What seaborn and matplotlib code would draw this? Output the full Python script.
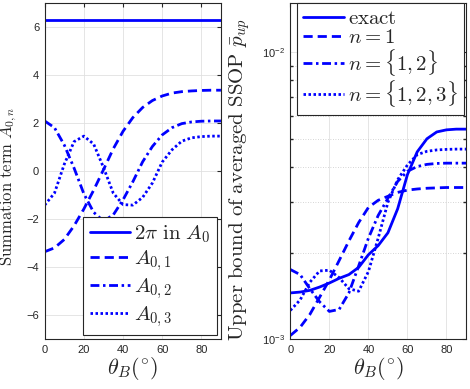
import seaborn as sns
import matplotlib.pyplot as plt
import matplotlib.ticker as mticker
from matplotlib.font_manager import FontProperties
import pandas as pd

theta = [0, 5, 10, 15, 20, 25, 30, 35, 40, 45, 50, 55, 60, 65, 70, 75, 80, 85, 90]

# left panel: summation terms
a0_const = 6.283
a01 = [-3.36, -3.20, -2.85, -2.28, -1.58, -0.80, 0.05, 0.92, 1.65, 2.22,
       2.64, 2.93, 3.12, 3.24, 3.30, 3.33, 3.35, 3.36, 3.36]
a02 = [2.08, 1.80, 1.08, 0.12, -0.95, -1.72, -2.08, -1.83, -1.20, -0.45,
       0.38, 1.02, 1.50, 1.80, 1.97, 2.04, 2.07, 2.08, 2.08]
a03 = [-1.42, -0.92, 0.28, 1.22, 1.45, 1.12, 0.15, -0.92, -1.40, -1.42,
       -1.10, -0.50, 0.37, 0.88, 1.24, 1.38, 1.43, 1.45, 1.45]

# right panel: upper bound of averaged SSOP
p_exact = [1.45e-3, 1.46e-3, 1.48e-3, 1.52e-3, 1.57e-3, 1.63e-3, 1.68e-3, 1.78e-3,
           1.97e-3, 2.12e-3, 2.35e-3, 2.85e-3, 3.75e-3, 4.50e-3, 5.00e-3, 5.28e-3,
           5.37e-3, 5.40e-3, 5.40e-3]
p_n1 = [1.03e-3, 1.10e-3, 1.22e-3, 1.40e-3, 1.61e-3, 1.88e-3, 2.20e-3, 2.55e-3,
        2.88e-3, 3.05e-3, 3.15e-3, 3.25e-3, 3.31e-3, 3.34e-3, 3.36e-3, 3.37e-3,
        3.38e-3, 3.38e-3, 3.38e-3]
p_n12 = [1.75e-3, 1.68e-3, 1.50e-3, 1.35e-3, 1.25e-3, 1.27e-3, 1.45e-3, 1.80e-3,
         2.25e-3, 2.70e-3, 3.10e-3, 3.55e-3, 3.85e-3, 4.00e-3, 4.07e-3, 4.10e-3,
         4.11e-3, 4.11e-3, 4.11e-3]
p_n123 = [1.26e-3, 1.37e-3, 1.58e-3, 1.73e-3, 1.74e-3, 1.64e-3, 1.50e-3, 1.47e-3,
          1.72e-3, 2.25e-3, 3.00e-3, 3.60e-3, 4.05e-3, 4.40e-3, 4.52e-3, 4.57e-3,
          4.59e-3, 4.60e-3, 4.60e-3]

sns.set_theme(style="whitegrid")
plt.rcParams['font.family'] = ['Liberation Sans', 'DejaVu Sans']
plt.rcParams['axes.edgecolor'] = '#262626'
plt.rcParams['xtick.color'] = '#262626'
plt.rcParams['ytick.color'] = '#262626'

blue = '#0000ff'
lw = 2.0
styles = ['-', (0, (3.3, 1.8)), (0, (3.2, 1.3, 0.9, 1.3)), (0, (0.9, 0.9))]
leg1_font = FontProperties(size=15, math_fontfamily='cm')
leg2_font = FontProperties(size=15, math_fontfamily='cm')
xl_font = FontProperties(size=16, math_fontfamily='cm')
yl1_font = FontProperties(size=12, math_fontfamily='cm')
yl2_font = FontProperties(size=15, math_fontfamily='cm')

fig = plt.figure(figsize=(4.7, 3.89), dpi=100)
ax1 = fig.add_axes([0.0951, 0.128, 0.375, 0.865])
ax2 = fig.add_axes([0.6177, 0.128, 0.3738, 0.865])

left = pd.DataFrame({"theta": theta, "const": [a0_const] * len(theta),
                     "a01": a01, "a02": a02, "a03": a03})
labels1 = [r"$2\pi\ \mathrm{in}\ A_0$", r"$A_{0,1}$", r"$A_{0,2}$", r"$A_{0,3}$"]
for col, ls, lab in zip(["const", "a01", "a02", "a03"], styles, labels1):
    sns.lineplot(data=left, x="theta", y=col, ax=ax1, color=blue, lw=lw,
                 linestyle=ls, label=lab)

right = pd.DataFrame({"theta": theta, "exact": p_exact, "n1": p_n1,
                      "n12": p_n12, "n123": p_n123})
labels2 = [r"$\mathrm{exact}$", r"$n=1$", r"$n=\{1,2\}$", r"$n=\{1,2,3\}$"]
for col, ls, lab in zip(["exact", "n1", "n12", "n123"], styles, labels2):
    sns.lineplot(data=right, x="theta", y=col, ax=ax2, color=blue, lw=lw,
                 linestyle=ls, label=lab)

ax1.set_xlim(0, 90)
ax1.set_ylim(-7, 7)
ax1.set_xticks([0, 20, 40, 60, 80])
ax1.set_yticks([-6, -4, -2, 0, 2, 4, 6])

ax2.set_yscale('log')
ax2.set_xlim(0, 90)
ax2.set_ylim(1e-3, 1.49e-2)
ax2.set_xticks([0, 20, 40, 60, 80])
ax2.yaxis.set_major_locator(mticker.LogLocator(base=10, numticks=5))
ax2.yaxis.set_minor_locator(mticker.LogLocator(base=10, subs=range(2, 10), numticks=20))
ax2.yaxis.set_minor_formatter(mticker.NullFormatter())

for ax in (ax1, ax2):
    ax.set_xlabel(r"$\theta_B(^{\circ})$", fontproperties=xl_font, labelpad=0)
    ax.tick_params(direction='in', top=True, right=True, length=3, width=0.8,
                   labelsize=8, pad=4)
    ax.tick_params(which='minor', direction='in', left=True, right=True, length=2)
    for s in ax.spines.values():
        s.set_linewidth(0.8)
    ax.grid(True, which='major', color='#e0e0e0', lw=0.6, ls='-')

ax2.grid(True, which='minor', axis='y', color='#c8c8c8', lw=0.6, ls=(0, (1, 2)))

ax1.set_ylabel(r"$\mathrm{Summation\ term}\ A_{0,n}$", fontproperties=yl1_font)
ax1.yaxis.set_label_coords(-0.145, 0.455)
ax2.set_ylabel(r"$\mathrm{Upper\ bound\ of\ averaged\ SSOP}\ \bar{p}_{up}$",
               fontproperties=yl2_font)
ax2.yaxis.set_label_coords(-0.218, 0.475)

leg_kw = dict(frameon=True, fancybox=False, framealpha=1,
              edgecolor='#262626', handlelength=1.95, handletextpad=0.2,
              borderpad=0.3)
l1 = ax1.legend(loc='lower right', borderaxespad=0.2, prop=leg1_font,
                labelspacing=0.15, **leg_kw)
l2 = ax2.legend(loc='upper right', bbox_to_anchor=(0.99, 1.0), borderaxespad=0,
                prop=leg2_font, labelspacing=0.0, **leg_kw)
for lg in (l1, l2):
    lg.get_frame().set_linewidth(0.8)

fig.savefig("out.png", dpi=100)
